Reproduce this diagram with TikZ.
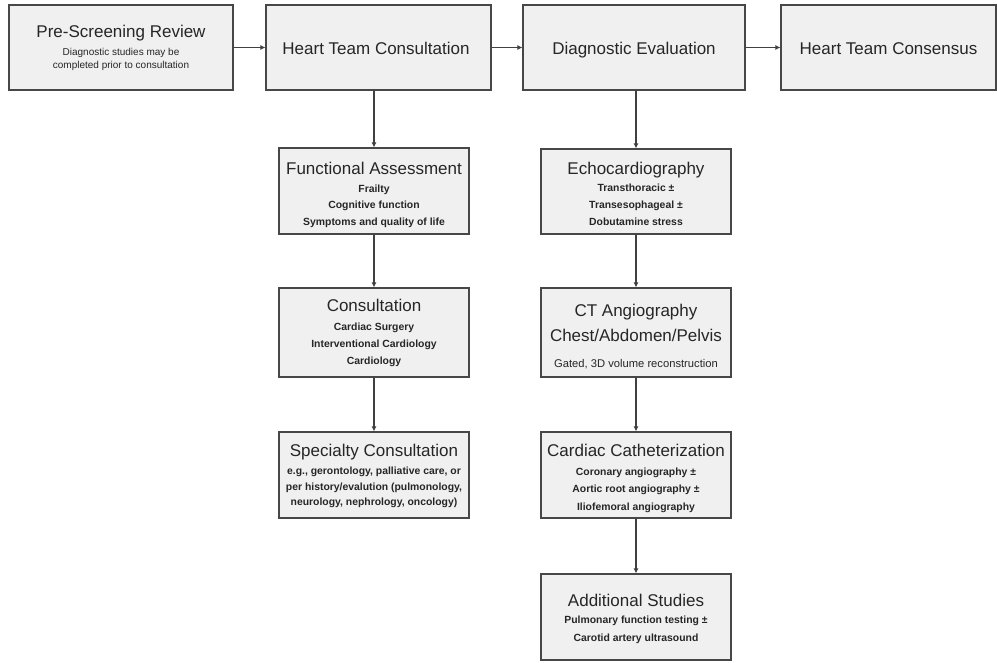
\documentclass[tikz,border=0pt]{standalone}
\usepackage{fontspec}
\setmainfont{Liberation Sans}
\usetikzlibrary{arrows.meta}

\tikzset{
  stagebox/.style={draw=black!72, fill=black!6, line width=1.1pt, rectangle, inner sep=0pt},
  ttl/.style={anchor=base, inner sep=0pt, text=black!85, font=\fontsize{17}{20}\selectfont},
  sub/.style={anchor=base, inner sep=0pt, text=black!85, font=\bfseries\fontsize{10.4}{12}\selectfont},
  note/.style={anchor=base, inner sep=0pt, text=black!85, font=\fontsize{10}{12}\selectfont},
  flow/.style={draw=black!75, line width=1.2pt, -{Latex[length=5pt,width=5pt]}}
}

\begin{document}
\begin{tikzpicture}[x=1pt, y=-1pt]
\useasboundingbox (0,0) rectangle (997,662);

% top row of stages
\node[stagebox, minimum width=224pt, minimum height=85pt] (pre) at (121,47.5) {};
\node[stagebox, minimum width=225pt, minimum height=85pt] (htc) at (378.5,47.5) {};
\node[stagebox, minimum width=222pt, minimum height=85pt] (de)  at (634,47.5) {};
\node[stagebox, minimum width=215pt, minimum height=85pt] (hcs) at (888.5,47.5) {};

\node[ttl]  (pre-t)  at (121,37) {Pre-Screening Review};
\node[note] (pre-s1) at (121,55.5) {Diagnostic studies may be};
\node[note] (pre-s2) at (121,68.5) {completed prior to consultation};
\node[ttl]  (htc-t)  at (376,54) {Heart Team Consultation};
\node[ttl]  (de-t)   at (634,54) {Diagnostic Evaluation};
\node[ttl]  (hcs-t)  at (888.5,54) {Heart Team Consensus};

% consultation column
\node[stagebox, minimum width=190pt, minimum height=86pt] (fa)  at (374,191) {};
\node[stagebox, minimum width=190pt, minimum height=89pt] (con) at (374,332.5) {};
\node[stagebox, minimum width=190pt, minimum height=86pt] (sc)  at (374,475) {};

\node[ttl] (fa-t)  at (374,174) {Functional Assessment};
\node[sub] (fa-s1) at (374,192) {Frailty};
\node[sub] (fa-s2) at (374,208) {Cognitive function};
\node[sub] (fa-s3) at (374,225) {Symptoms and quality of life};

\node[ttl] (con-t)  at (374,311) {Consultation};
\node[sub] (con-s1) at (374,330) {Cardiac Surgery};
\node[sub] (con-s2) at (374,347) {Interventional Cardiology};
\node[sub] (con-s3) at (374,364) {Cardiology};

\node[ttl] (sc-t)  at (374,456) {Specialty Consultation};
\node[sub] (sc-s1) at (374,474) {e.g., gerontology, palliative care, or};
\node[sub] (sc-s2) at (374,490) {per history/evalution (pulmonology,};
\node[sub] (sc-s3) at (374,505) {neurology, nephrology, oncology)};

% diagnostic column
\node[stagebox, minimum width=190pt, minimum height=85pt] (echo) at (636,191.5) {};
\node[stagebox, minimum width=190pt, minimum height=89pt] (ct)   at (636,332.5) {};
\node[stagebox, minimum width=190pt, minimum height=86pt] (cath) at (636,475) {};
\node[stagebox, minimum width=190pt, minimum height=86pt] (add)  at (636,617) {};

\node[ttl] (echo-t)  at (636,174) {Echocardiography};
\node[sub] (echo-s1) at (636,191) {Transthoracic ±};
\node[sub] (echo-s2) at (636,208) {Transesophageal ±};
\node[sub] (echo-s3) at (636,225) {Dobutamine stress};

\node[ttl]  (ct-t1) at (636,316) {CT Angiography};
\node[ttl]  (ct-t2) at (636,341) {Chest/Abdomen/Pelvis};
\node[note] (ct-s1) at (636,367) {\fontsize{11.2}{13}\selectfont Gated, 3D volume reconstruction};

\node[ttl] (cath-t)  at (636,456) {Cardiac Catheterization};
\node[sub] (cath-s1) at (636,475) {Coronary angiography ±};
\node[sub] (cath-s2) at (636,492) {Aortic root angiography ±};
\node[sub] (cath-s3) at (636,510) {Iliofemoral angiography};

\node[ttl] (add-t)  at (636,606) {Additional Studies};
\node[sub] (add-s1) at (636,623) {Pulmonary function testing ±};
\node[sub] (add-s2) at (636,641) {Carotid artery ultrasound};

% connectors
\draw[flow] (pre) -- (htc);
\draw[flow] (htc) -- (de);
\draw[flow] (de) -- (hcs);
\draw[flow] (fa.north |- htc.south) -- (fa.north);
\draw[flow] (fa) -- (con);
\draw[flow] (con) -- (sc);
\draw[flow] (echo.north |- de.south) -- (echo.north);
\draw[flow] (echo) -- (ct);
\draw[flow] (ct) -- (cath);
\draw[flow] (cath) -- (add);
\end{tikzpicture}
\end{document}
